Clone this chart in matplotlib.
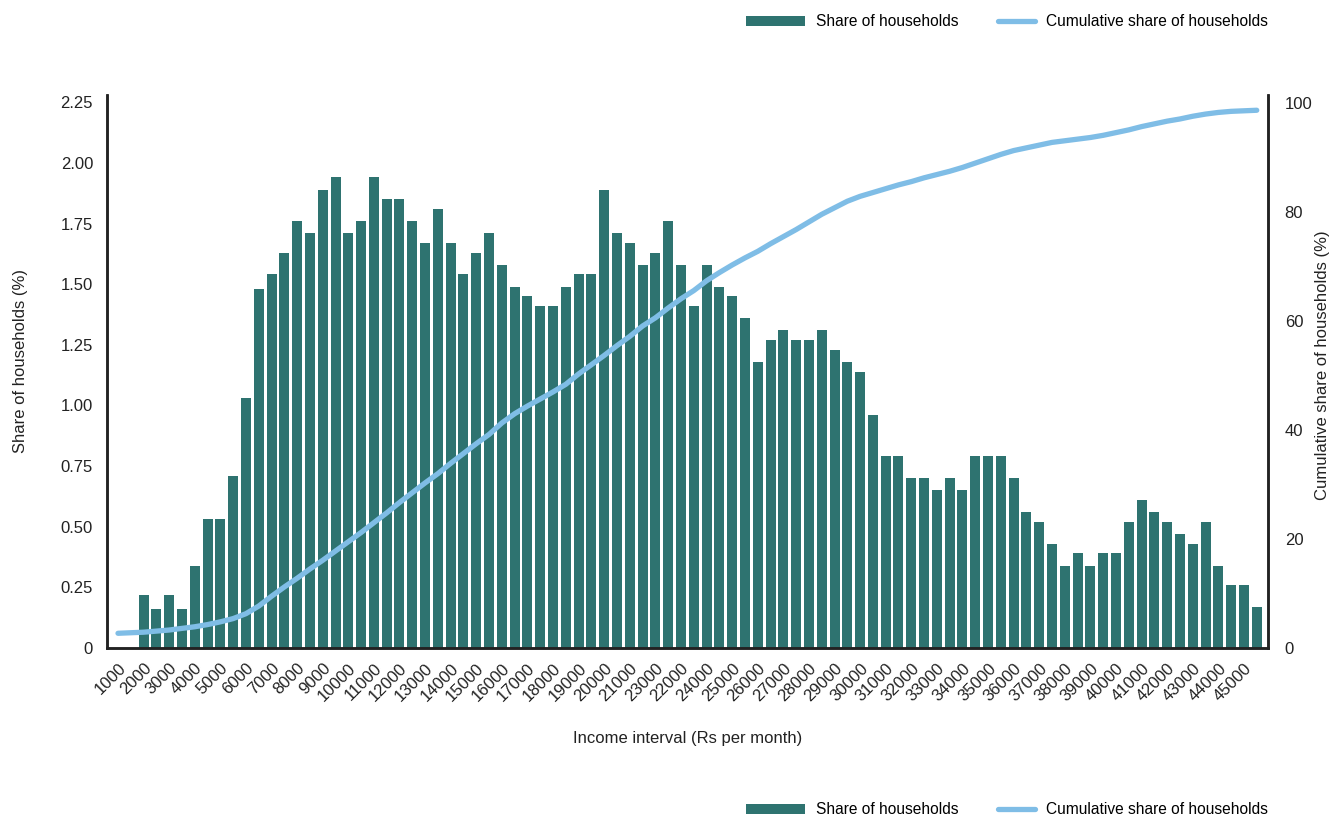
import matplotlib
matplotlib.use("Agg")
import matplotlib.pyplot as plt
import numpy as np
from matplotlib.lines import Line2D
from matplotlib.patches import Patch
from matplotlib.legend_handler import HandlerLine2D

plt.rcParams["font.family"] = ["Liberation Sans", "DejaVu Sans"]

# x tick labels (every second interval is labelled, order kept as in the source)
tick_labels = ["1000", "2000", "3000", "4000", "5000", "6000", "7000", "8000", "9000",
               "10000", "11000", "12000", "13000", "14000", "15000", "16000", "17000",
               "18000", "19000", "20000", "21000", "23000", "22000", "24000", "25000",
               "26000", "27000", "28000", "29000", "30000", "31000", "32000", "33000",
               "34000", "35000", "36000", "37000", "38000", "39000", "40000", "41000",
               "42000", "43000", "44000", "45000"]

# share of households per 500 Rs interval (%)
share = [0.0, 0.0, 0.22, 0.16, 0.22, 0.16, 0.34, 0.53, 0.53, 0.71,
         1.03, 1.48, 1.54, 1.63, 1.76, 1.71, 1.89, 1.94, 1.71, 1.76,
         1.94, 1.85, 1.85, 1.76, 1.67, 1.81, 1.67, 1.54, 1.63, 1.71,
         1.58, 1.49, 1.45, 1.41, 1.41, 1.49, 1.54, 1.54, 1.89, 1.71,
         1.67, 1.58, 1.63, 1.76, 1.58, 1.41, 1.58, 1.49, 1.45, 1.36,
         1.18, 1.27, 1.31, 1.27, 1.27, 1.31, 1.23, 1.18, 1.14, 0.96,
         0.79, 0.79, 0.70, 0.70, 0.65, 0.70, 0.65, 0.79, 0.79, 0.79,
         0.70, 0.56, 0.52, 0.43, 0.34, 0.39, 0.34, 0.39, 0.39, 0.52,
         0.61, 0.56, 0.52, 0.47, 0.43, 0.52, 0.34, 0.26, 0.26, 0.17]

# cumulative share of households (%)
cumulative = [2.7, 2.8, 2.9, 3.1, 3.3, 3.6, 3.9, 4.3, 4.8, 5.4,
              6.3, 7.7, 9.5, 11.2, 12.8, 14.5, 16.1, 17.8, 19.5, 21.2,
              23.0, 24.8, 26.7, 28.5, 30.3, 32.0, 33.9, 35.7, 37.5, 39.2,
              41.3, 43.0, 44.4, 45.7, 47.0, 48.4, 50.3, 52.0, 53.7, 55.5,
              57.2, 59.1, 60.6, 62.4, 64.1, 65.6, 67.4, 68.9, 70.3, 71.6,
              72.8, 74.2, 75.5, 76.8, 78.2, 79.6, 80.8, 82.0, 82.9, 83.6,
              84.3, 85.0, 85.6, 86.3, 86.9, 87.5, 88.2, 89.0, 89.8, 90.6,
              91.3, 91.8, 92.3, 92.8, 93.1, 93.4, 93.7, 94.1, 94.6, 95.1,
              95.7, 96.2, 96.7, 97.1, 97.6, 98.0, 98.3, 98.5, 98.6, 98.7]

teal = "#2e7370"
blue = "#7fbde6"
dark = "#222222"


class ShortLineHandler(HandlerLine2D):
    # draw the line handle shorter than the patch handle, right aligned
    def create_artists(self, legend, orig_handle, xdescent, ydescent, width, height, fontsize, trans):
        short = width * 0.63
        return super().create_artists(legend, orig_handle, xdescent - (width - short), ydescent,
                                      short, height, fontsize, trans)


fig = plt.figure(figsize=(13.33, 8.18), dpi=100)
ax = fig.add_axes([107 / 1333, 1 - 648 / 818, (1268 - 107) / 1333, (648 - 95) / 818])

x = np.arange(len(share))
ax.bar(x, share, width=0.78, color=teal, zorder=2)

ax2 = ax.twinx()
ax2.plot(x, cumulative, color=blue, lw=3.8, solid_capstyle="round", zorder=3)

ax.set_xlim(-0.86, len(share) - 1 + 0.88)
ax.set_ylim(0, 2.28)
ax2.set_ylim(0, 101.5)

yt = [0, 0.25, 0.5, 0.75, 1.0, 1.25, 1.5, 1.75, 2.0, 2.25]
ax.set_yticks(yt)
ax.set_yticklabels(["0"] + ["%.2f" % v for v in yt[1:]])
ax2.set_yticks([0, 20, 40, 60, 80, 100])

ax.set_xticks(x[::2])
ax.set_xticklabels(tick_labels, rotation=45, ha="right", rotation_mode="anchor")

for a in (ax, ax2):
    a.tick_params(length=0, labelsize=12, colors=dark)
    a.spines["top"].set_visible(False)
    for s in ("left", "right", "bottom"):
        a.spines[s].set_color(dark)
        a.spines[s].set_linewidth(1.8)
ax.tick_params(axis="y", pad=10)
ax.tick_params(axis="x", pad=9)
ax2.tick_params(axis="y", pad=12)

ax.set_xlabel("Income interval (Rs per month)", fontsize=12, color=dark)
ax.xaxis.set_label_coords(0.5, -(738 - 648) / 553)
ax.xaxis.label.set_va("center")
ax.set_ylabel("Share of households (%)", fontsize=12, color=dark, va="center")
ax.yaxis.set_label_coords(-(107 - 21) / 1161, 0.519)
ax2.set_ylabel("Cumulative share of households (%)", fontsize=12, color=dark,
               rotation=90, va="center")
ax2.yaxis.set_label_coords((1323 - 107) / 1161, 0.512)

handles = [Patch(facecolor=teal, edgecolor="none", label="Share of households"),
           Line2D([], [], color=blue, lw=3.8, solid_capstyle="round",
                  label="Cumulative share of households")]
for ypix in (22, 810):
    fig.legend(handles=handles, loc="center right", bbox_to_anchor=(1268 / 1333, 1 - ypix / 818),
               ncol=2, frameon=False, fontsize=11.2, handlelength=3.8, handleheight=0.65,
               handletextpad=0.7, columnspacing=1.15, borderpad=0, borderaxespad=0,
               handler_map={Line2D: ShortLineHandler()})

fig.savefig("out.png", dpi=100)
